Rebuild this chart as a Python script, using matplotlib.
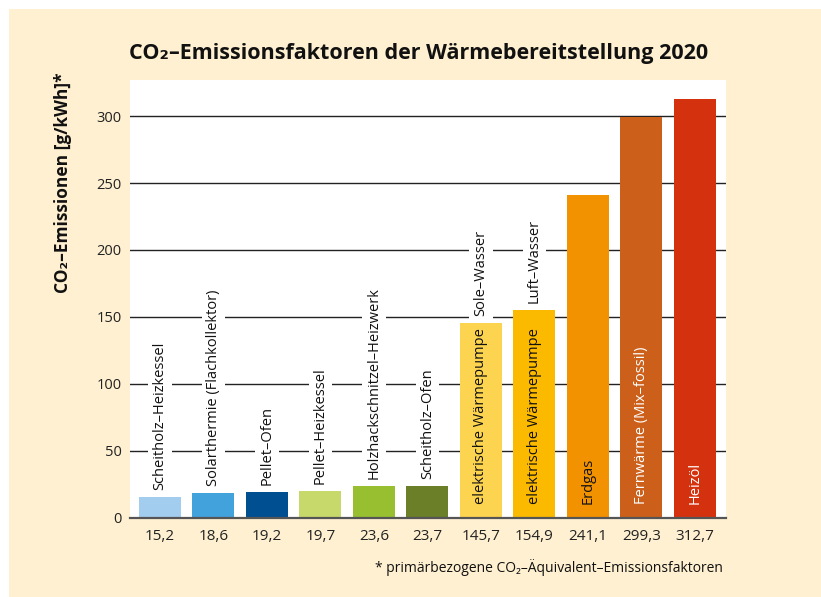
import matplotlib.pyplot as plt
from matplotlib.patches import Rectangle

plt.rcParams['font.family'] = ['Open Sans', 'DejaVu Sans']

# data
technologies = ['Scheitholz–Heizkessel', 'Solarthermie (Flachkollektor)', 'Pellet–Ofen',
                'Pellet–Heizkessel', 'Holzhackschnitzel–Heizwerk', 'Scheitholz–Ofen',
                'elektrische Wärmepumpe', 'elektrische Wärmepumpe', 'Erdgas',
                'Fernwärme (Mix–fossil)', 'Heizöl']
top_labels = ['', '', '', '', '', '', 'Sole–Wasser', 'Luft–Wasser', '', '', '']
emissions = [15.2, 18.6, 19.2, 19.7, 23.6, 23.7, 145.7, 154.9, 241.1, 299.3, 312.7]
colors = ['#a3cdef', '#41a2dc', '#004f90', '#c8d96c', '#97bf30', '#6a7f28',
          '#fdd450', '#fbb900', '#f39200', '#cc601a', '#d4320f']
inside = [False] * 6 + [True] * 5
text_colors = ['#111111'] * 9 + ['white', 'white']
yticks = [0, 50, 100, 150, 200, 250, 300]

cream = '#fef0d0'
fig = plt.figure(figsize=(8.21, 5.97), dpi=100, facecolor='white')
fig.patches.append(Rectangle((9 / 821, 0), 1, 1 - 9 / 597, transform=fig.transFigure,
                             facecolor=cream, edgecolor='none', zorder=-10))

ax = fig.add_axes([130 / 821, 1 - 517.7 / 597, 596 / 821, 437.7 / 597])
ax.set_facecolor('white')
x = list(range(len(emissions)))
ax.bar(x, emissions, width=0.785, color=colors, zorder=2)

for y in yticks[1:]:
    ax.axhline(y, color='#222222', lw=1.0, zorder=1)

ax.set_xlim(-0.56, 10.58)
ax.set_ylim(0, 327)
ax.set_yticks(yticks)
ax.set_yticklabels([str(t) for t in yticks], fontsize=10.5, color='#222222')
ax.set_xticks(x)
ax.set_xticklabels([f'{v:.1f}'.replace('.', ',') for v in emissions], fontsize=11, color='#222222')
ax.tick_params(length=0)
ax.tick_params(axis='y', pad=6)
ax.tick_params(axis='x', pad=8)
for s in ['top', 'right', 'left']:
    ax.spines[s].set_visible(False)
ax.spines['bottom'].set_color('#555555')
ax.spines['bottom'].set_linewidth(1.6)
ax.spines['bottom'].set_zorder(3)

box = dict(facecolor='white', edgecolor='none', pad=3)
fs = 10.5
for i, v in enumerate(emissions):
    if inside[i]:
        ax.annotate(technologies[i], (i, 0), xytext=(0, 10), textcoords='offset points',
                    rotation=90, ha='center', va='bottom', fontsize=fs,
                    color=text_colors[i], zorder=4)
        if top_labels[i]:
            ax.annotate(top_labels[i], (i, v), xytext=(0, 5), textcoords='offset points',
                        rotation=90, ha='center', va='bottom', fontsize=fs,
                        color='#111111', bbox=box, zorder=4)
    else:
        ax.annotate(technologies[i], (i, v), xytext=(0, 5), textcoords='offset points',
                    rotation=90, ha='center', va='bottom', fontsize=fs,
                    color='#111111', bbox=box, zorder=4)

fig.text(419 / 821, 1 - 54 / 597, 'CO₂–Emissionsfaktoren der Wärmebereitstellung 2020',
         ha='center', va='center', fontsize=15.5, fontweight='bold', color='#111111')
fig.text(63 / 821, 1 - 183 / 597, 'CO₂–Emissionen [g/kWh]*', rotation=90,
         ha='center', va='center', fontsize=12.5, fontweight='bold', color='#111111')
fig.text(723 / 821, 1 - 568 / 597, '* primärbezogene CO₂–Äquivalent–Emissionsfaktoren',
         ha='right', va='center', fontsize=10, color='#111111')

fig.savefig('out.png', dpi=100, facecolor=fig.get_facecolor())
